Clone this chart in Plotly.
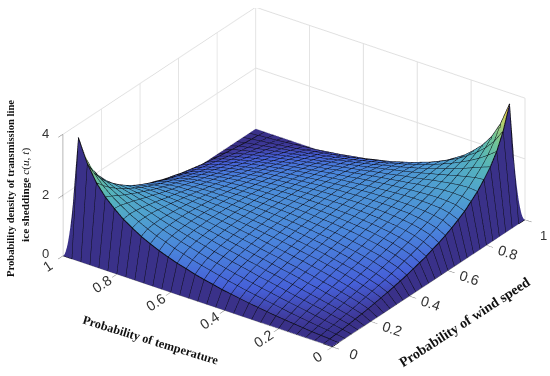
import plotly.graph_objects as go

# axis grid: 31 nodes per axis, outer ring of nodes sits on z = 0
grid = [k / 30 for k in range(31)]
tick_vals = [0, 0.2, 0.4, 0.6, 0.8, 1]
tick_text = ["0", "0.2", "0.4", "0.6", "0.8", "1"]
wind_text = ["0", "0.2", "0.4", "0.6", "0.8", ""]
z_ticks = [0, 2, 4]
z_text = ["", "", ""]
z_labels = ["0", "2", "4"]

# density, rows = wind index 1..29, columns = temperature index 1..29
density = [
[.02,.04,.06,.09,.12,.15,.18,.22,.26,.30,.35,.40,.45,.52,.58,.65,.74,.82,.92,1.03,1.16,1.30,1.48,1.67,1.92,2.20,2.57,3.10,3.85],
[.04,.08,.11,.15,.19,.23,.28,.33,.38,.43,.48,.54,.60,.67,.74,.81,.89,.98,1.07,1.18,1.28,1.41,1.55,1.70,1.89,2.09,2.34,2.66,3.10],
[.06,.11,.16,.21,.26,.31,.36,.41,.47,.52,.58,.64,.70,.77,.84,.91,.99,1.07,1.15,1.24,1.34,1.44,1.56,1.68,1.82,1.97,2.14,2.34,2.57],
[.09,.15,.21,.27,.32,.38,.43,.49,.55,.61,.66,.73,.79,.85,.92,.98,1.06,1.13,1.20,1.28,1.36,1.45,1.55,1.64,1.75,1.85,1.97,2.09,2.20],
[.12,.19,.26,.32,.38,.44,.50,.56,.62,.68,.73,.80,.85,.92,.98,1.04,1.11,1.17,1.24,1.30,1.37,1.44,1.52,1.59,1.67,1.75,1.82,1.89,1.92],
[.15,.23,.31,.38,.44,.51,.56,.63,.69,.74,.80,.86,.91,.97,1.03,1.08,1.14,1.20,1.25,1.31,1.37,1.42,1.48,1.54,1.59,1.64,1.68,1.70,1.67],
[.18,.28,.36,.43,.50,.56,.63,.69,.75,.80,.86,.91,.96,1.02,1.07,1.12,1.17,1.22,1.27,1.31,1.36,1.40,1.45,1.48,1.52,1.55,1.56,1.55,1.48],
[.22,.33,.41,.49,.56,.63,.69,.75,.81,.86,.91,.96,1.01,1.06,1.10,1.14,1.19,1.23,1.27,1.31,1.34,1.37,1.40,1.42,1.44,1.45,1.44,1.41,1.30],
[.26,.38,.47,.55,.62,.69,.75,.81,.86,.91,.96,1.01,1.05,1.09,1.13,1.17,1.20,1.23,1.27,1.29,1.32,1.34,1.36,1.37,1.37,1.36,1.34,1.28,1.16],
[.30,.43,.52,.61,.68,.74,.80,.86,.91,.96,1.00,1.04,1.08,1.12,1.15,1.18,1.21,1.24,1.26,1.28,1.29,1.31,1.31,1.31,1.30,1.28,1.24,1.18,1.03],
[.35,.48,.58,.66,.73,.80,.86,.91,.96,1.00,1.04,1.08,1.11,1.14,1.17,1.19,1.22,1.23,1.25,1.26,1.27,1.27,1.27,1.25,1.24,1.20,1.15,1.07,.92],
[.40,.54,.64,.73,.80,.86,.91,.96,1.01,1.04,1.08,1.11,1.14,1.16,1.18,1.20,1.21,1.22,1.23,1.24,1.23,1.23,1.22,1.20,1.17,1.13,1.07,.98,.82],
[.45,.60,.70,.79,.85,.91,.96,1.01,1.05,1.08,1.11,1.14,1.16,1.18,1.19,1.20,1.21,1.21,1.22,1.21,1.20,1.19,1.17,1.14,1.11,1.06,.99,.89,.74],
[.52,.67,.77,.85,.92,.97,1.02,1.06,1.09,1.12,1.14,1.16,1.18,1.19,1.20,1.20,1.20,1.20,1.19,1.18,1.17,1.14,1.12,1.08,1.04,.98,.91,.81,.65],
[.58,.74,.84,.92,.98,1.03,1.07,1.10,1.13,1.15,1.17,1.18,1.19,1.20,1.20,1.20,1.19,1.18,1.17,1.15,1.13,1.10,1.07,1.03,.98,.92,.84,.74,.58],
[.65,.81,.91,.98,1.04,1.08,1.12,1.14,1.17,1.18,1.19,1.20,1.20,1.20,1.20,1.19,1.18,1.16,1.14,1.12,1.09,1.06,1.02,.97,.92,.85,.77,.67,.52],
[.74,.89,.99,1.06,1.11,1.14,1.17,1.19,1.20,1.21,1.22,1.21,1.21,1.20,1.19,1.18,1.16,1.14,1.11,1.08,1.05,1.01,.96,.91,.85,.79,.70,.60,.45],
[.82,.98,1.07,1.13,1.17,1.20,1.22,1.23,1.23,1.24,1.23,1.22,1.21,1.20,1.18,1.16,1.14,1.11,1.08,1.04,1.01,.96,.91,.86,.80,.73,.64,.54,.40],
[.92,1.07,1.15,1.20,1.24,1.25,1.27,1.27,1.27,1.26,1.25,1.23,1.22,1.19,1.17,1.14,1.11,1.08,1.04,1.00,.96,.91,.86,.80,.73,.66,.58,.48,.35],
[1.03,1.18,1.24,1.28,1.30,1.31,1.31,1.31,1.29,1.28,1.26,1.24,1.21,1.18,1.15,1.12,1.08,1.04,1.00,.96,.91,.86,.80,.74,.68,.61,.52,.43,.30],
[1.16,1.28,1.34,1.36,1.37,1.37,1.36,1.34,1.32,1.29,1.27,1.23,1.20,1.17,1.13,1.09,1.05,1.01,.96,.91,.86,.81,.75,.69,.62,.55,.47,.38,.26],
[1.30,1.41,1.44,1.45,1.44,1.42,1.40,1.37,1.34,1.31,1.27,1.23,1.19,1.14,1.10,1.06,1.01,.96,.91,.86,.81,.75,.69,.63,.56,.49,.41,.33,.22],
[1.48,1.55,1.56,1.55,1.52,1.48,1.45,1.40,1.36,1.31,1.27,1.22,1.17,1.12,1.07,1.02,.96,.91,.86,.80,.75,.69,.63,.56,.50,.43,.36,.28,.18],
[1.67,1.70,1.68,1.64,1.59,1.54,1.48,1.42,1.37,1.31,1.25,1.20,1.14,1.08,1.03,.97,.91,.86,.80,.74,.69,.63,.56,.51,.44,.38,.31,.23,.15],
[1.92,1.89,1.82,1.75,1.67,1.59,1.52,1.44,1.37,1.30,1.24,1.17,1.11,1.04,.98,.92,.85,.80,.73,.68,.62,.56,.50,.44,.38,.32,.26,.19,.12],
[2.20,2.09,1.97,1.85,1.75,1.64,1.55,1.45,1.36,1.28,1.20,1.13,1.06,.98,.92,.85,.79,.73,.66,.61,.55,.49,.43,.38,.32,.27,.21,.15,.09],
[2.57,2.34,2.14,1.97,1.82,1.68,1.56,1.44,1.34,1.24,1.15,1.07,.99,.91,.84,.77,.70,.64,.58,.52,.47,.41,.36,.31,.26,.21,.16,.11,.06],
[3.10,2.66,2.34,2.09,1.89,1.70,1.55,1.41,1.28,1.18,1.07,.98,.89,.81,.74,.67,.60,.54,.48,.43,.38,.33,.28,.23,.19,.15,.11,.08,.04],
[3.85,3.10,2.57,2.20,1.92,1.67,1.48,1.30,1.16,1.03,.92,.82,.74,.65,.58,.52,.45,.40,.35,.30,.26,.22,.18,.15,.12,.09,.06,.04,.02],
]

# colours seen on the facets, from the low end to the high end
ramp_stops = [0, 0.04, 0.13, 0.27, 0.4, 0.55, 0.7, 0.85, 1]
ramp_colors = ["#352f88", "#3f3a9c", "#4660d8", "#4a85dc", "#4fa0d0", "#55b4bc", "#70c498", "#b5cf6c", "#fbc13c"]
colorscale = [[s, c] for s, c in zip(ramp_stops, ramp_colors)]
wall_color = "#3a3189"
line_color = "#0c0c14"

inner = grid[1:-1]
common = dict(colorscale=colorscale, cmin=0, cmax=3.85, showscale=False,
              lighting=dict(ambient=1, diffuse=0, specular=0, roughness=1, fresnel=0),
              hoverinfo="skip")
def lines(size=1/30, show=True):
    return dict(show=show, start=0, end=1.0001, size=size, color=line_color, width=4, highlight=False)

fig = go.Figure()
fig.add_trace(go.Surface(x=inner, y=inner, z=density, surfacecolor=density,
                         contours=dict(x=lines(), y=lines()), **common))

# outer row of facets: one cell from the edge of the table down to z = 0
edge_front_temp = [0] + density[0] + [0]          # wind index 1
edge_back_temp = [0] + density[-1] + [0]          # wind index 29
edge_front_wind = [0] + [r[0] for r in density] + [0]   # temperature index 1
edge_back_wind = [0] + [r[-1] for r in density] + [0]   # temperature index 29
n = len(grid)
dark = [[0] * n, [0] * n]
wall_scale = [[0, wall_color], [1, wall_color]]
wall_common = dict(common, colorscale=wall_scale, cmin=0, cmax=1)

for near, far, edge in [(grid[0], grid[1], edge_front_temp), (grid[-1], grid[-2], edge_back_temp)]:
    fig.add_trace(go.Surface(x=[[near] * n, [far] * n], y=[grid, grid], z=[[0] * n, edge],
                             surfacecolor=dark, contours=dict(y=lines()), **wall_common))
for near, far, edge in [(grid[0], grid[1], edge_front_wind), (grid[-1], grid[-2], edge_back_wind)]:
    fig.add_trace(go.Surface(x=[grid, grid], y=[[near] * n, [far] * n], z=[[0] * n, edge],
                             surfacecolor=dark, contours=dict(x=lines()), **wall_common))

# black rim along the four edges of the table
m = len(inner)
rim_x = [grid[1]] * m + inner + [grid[-2]] * m + inner[::-1]
rim_y = inner + [grid[-2]] * m + inner[::-1] + [grid[1]] * m
rim_z = [r[0] for r in density] + density[-1] + [r[-1] for r in density][::-1] + density[0][::-1]
fig.add_trace(go.Scatter3d(x=rim_x, y=rim_y, z=rim_z, mode="lines",
                           line=dict(color=line_color, width=2), hoverinfo="skip", showlegend=False))

tick_font = dict(family="Liberation Sans", size=13, color="#333333")
axis_style = dict(showbackground=False, showgrid=True, gridcolor="#e0e0e0", gridwidth=2,
                  zeroline=False, showline=True, linecolor="#6a6a6a", linewidth=1,
                  ticks="outside", ticklen=8, tickcolor="#6a6a6a", tickwidth=1,
                  tickfont=tick_font, showspikes=False, title=dict(text=""))

fig.update_layout(
    width=550, height=376, margin=dict(l=0, r=0, t=0, b=0), paper_bgcolor="white",
    showlegend=False,
    scene=dict(
        domain=dict(x=[0.0691, 1], y=[0, 0.978]),
        xaxis=dict(axis_style, range=[0, 1], tickvals=tick_vals, ticktext=wind_text),
        yaxis=dict(axis_style, range=[0, 1], tickvals=tick_vals, ticktext=tick_text),
        zaxis=dict(axis_style, range=[0, 4], tickvals=z_ticks, ticktext=z_text),
        aspectmode="manual", aspectratio=dict(x=1.8, y=1.8, z=0.75),
        camera=dict(projection=dict(type="orthographic"), up=dict(x=0, y=0, z=1),
                    center=dict(x=0, y=0, z=-0.092),
                    eye=dict(x=-1.434, y=-1.026, z=0.852)),
    ),
    annotations=[
        dict(text="<b>Probability density of transmission line</b>", x=10/550, y=1-189/376, textangle=-90,
             font=dict(family="Liberation Serif", size=10.6, color="#111111")),
        dict(text="<b>ice sheddinge </b><i>c</i>(<i>u</i>, <i>t</i>)", x=26/550, y=1-195/376, textangle=-90,
             font=dict(family="Liberation Serif", size=11.3, color="#111111")),
        dict(text="<b>Probability of temperature</b>", x=150/550, y=1-340/376, textangle=17,
             font=dict(family="Liberation Serif", size=12.3, color="#111111")),
        dict(text="<b>Probability of wind speed</b>", x=464/550, y=1-322/376, textangle=-33,
             font=dict(family="Liberation Serif", size=14, color="#111111")),
        dict(text=z_labels[0], x=45/550, y=1-253/376, font=tick_font),
        dict(text=z_labels[1], x=45/550, y=1-194/376, font=tick_font),
        dict(text=z_labels[2], x=45/550, y=1-133/376, font=tick_font),
        dict(text="1", x=543/550, y=1-235/376, font=tick_font),
    ],
)
fig.update_annotations(xref="paper", yref="paper", xanchor="center", yanchor="middle", showarrow=False)
fig.write_html("out.html", config={"displayModeBar": False},
               post_script="document.body.style.margin='0';document.documentElement.style.overflow='hidden';")
